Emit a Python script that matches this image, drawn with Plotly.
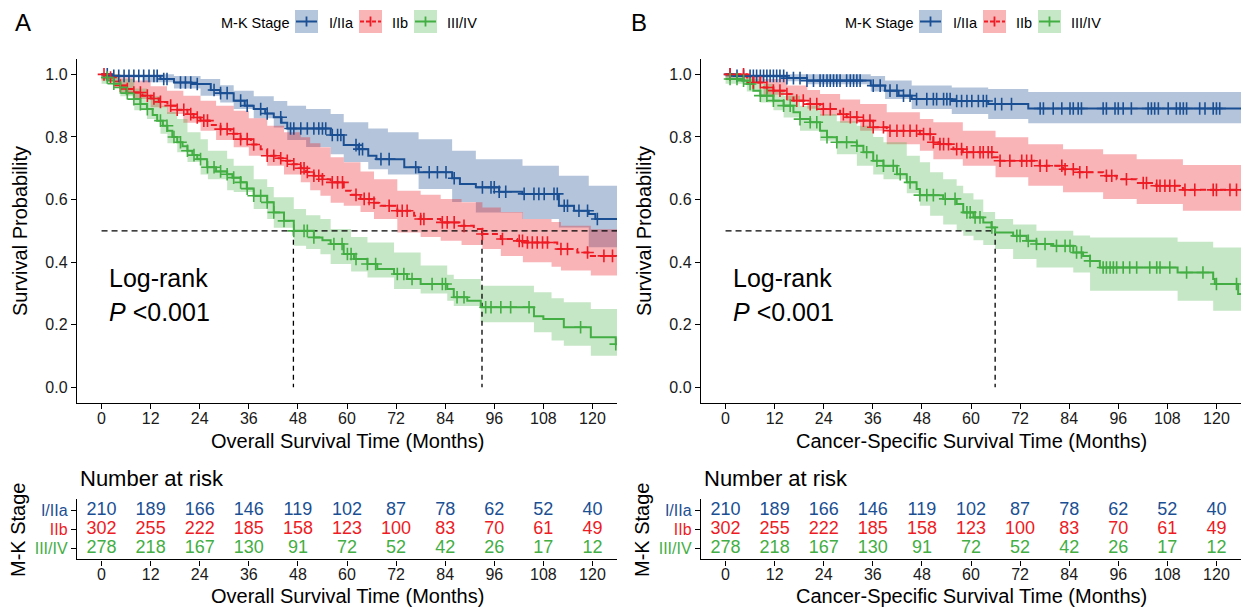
import numpy as np
import plotly.graph_objects as go

W, H = 1245, 607
FONT = "Arial, 'Liberation Sans', sans-serif"

groups = ["I/IIa", "IIb", "III/IV"]
line_colors = ["#1B4F93", "#EE1B24", "#43AE43"]
band_colors = ["rgba(27,79,147,0.33)", "rgba(238,27,36,0.33)", "rgba(67,174,67,0.30)"]
legend_fill = ["#B4C6DC", "#F9B4B6", "#C7E8C7"]
line_dash = ["solid", "6px,4px", "solid"]

# ---------------- Overall survival (panel A) ----------------
os_blue_t = [0, 2.5, 14.4, 17.7, 22, 26.7, 29, 32.3, 35, 37.2, 40, 42.1, 44, 45.4, 56.0, 59.2, 62.8, 65.2, 67.2,
             74.0, 77.5, 85.7, 87.6, 91.5, 97.2, 102.9, 111.8, 115.5, 119.1, 120.7, 126]
os_blue_s = [1.0, 0.995, 0.985, 0.974, 0.969, 0.950, 0.940, 0.916, 0.900, 0.889, 0.875, 0.863, 0.845, 0.827, 0.806,
             0.774, 0.761, 0.740, 0.729, 0.703, 0.687, 0.668, 0.650, 0.639, 0.625, 0.618, 0.580, 0.564, 0.554, 0.538, 0.538]
os_blue_band_t = [0, 10, 17.7, 24.2, 29, 32.3, 37.2, 42.1, 45.4, 50, 56, 59.2, 65.2, 70, 77.5, 85.7, 91.5, 102.9,
                  111.8, 119.1, 126]
os_blue_up = [1.0, 1.0, 0.995, 0.985, 0.965, 0.948, 0.93, 0.915, 0.9, 0.889, 0.873, 0.847, 0.827, 0.815, 0.793,
              0.756, 0.729, 0.708, 0.676, 0.644, 0.644]
os_blue_lo = [0.99, 0.975, 0.955, 0.932, 0.91, 0.889, 0.86, 0.83, 0.79, 0.768, 0.745, 0.72, 0.697, 0.68, 0.634,
              0.592, 0.559, 0.538, 0.511, 0.448, 0.448]
os_blue_cens = [1.4, 3.0, 4.2, 5.5, 6.7, 7.9, 9.1, 10.3, 11.6, 12.8, 13.6, 15.2, 16.0, 19.3, 20.5, 21.8, 23.4, 27.5,
                29.1, 30.7, 34.0, 35.6, 38.9, 40.5, 43.8, 46.2, 47.0, 48.7, 50.3, 51.9, 53.1, 54.0, 54.8, 56.4, 57.7,
                58.5, 62.2, 63.0, 63.8, 68.3, 70.3, 76.8, 80.1, 82.1, 84.2, 86.2, 93.1, 95.2, 96.0, 97.2, 98.8, 103.3,
                105.7, 106.9, 108.2, 110.6, 111.4, 113.1, 113.9, 116.7, 118.8, 121.2]

os_red_t = [0, 1.0, 3, 4.6, 6, 7.9, 10, 12, 14, 16.1, 18.5, 21, 22.5, 24.2, 26.5, 29.1, 31.5, 34, 36.5, 38.9, 40.5,
            42.5, 44.6, 46.5, 48.7, 50, 51.9, 54, 56, 59.2, 61, 63.3, 66, 68.2, 72.3, 76.4, 78, 82.9, 87.8, 91, 93.1,
            97.6, 101.6, 103, 111.4, 116.3, 119.6, 126]
os_red_s = [1.0, 0.990, 0.977, 0.964, 0.953, 0.942, 0.932, 0.923, 0.912, 0.900, 0.887, 0.873, 0.862, 0.852, 0.838,
            0.825, 0.81, 0.793, 0.776, 0.761, 0.740, 0.732, 0.724, 0.713, 0.700, 0.688, 0.676, 0.665, 0.655, 0.628,
            0.615, 0.602, 0.59, 0.580, 0.564, 0.548, 0.538, 0.527, 0.516, 0.506, 0.490, 0.474, 0.468, 0.463, 0.442,
            0.431, 0.420, 0.420]
os_red_band_t = [0, 4.6, 7.9, 12, 16, 20, 24.2, 28, 32.3, 36, 40.5, 44.6, 48.7, 51, 53.5, 56, 59.2, 63.3, 66.6, 72.3,
                 78, 82.9, 88, 93.1, 97.6, 103, 110, 112.3, 119.6, 126]
os_red_up = [1.0, 0.99, 0.98, 0.962, 0.948, 0.932, 0.916, 0.9, 0.884, 0.86, 0.836, 0.815, 0.799, 0.78, 0.767, 0.735,
             0.719, 0.69, 0.665, 0.628, 0.615, 0.602, 0.591, 0.575, 0.56, 0.538, 0.528, 0.516, 0.505, 0.505]
os_red_lo = [0.98, 0.94, 0.921, 0.895, 0.873, 0.845, 0.820, 0.79, 0.767, 0.74, 0.708, 0.68, 0.655, 0.63, 0.612, 0.59,
             0.58, 0.56, 0.538, 0.495, 0.48, 0.468, 0.455, 0.442, 0.42, 0.40, 0.385, 0.373, 0.357, 0.355]
os_red_cens = [0.6, 2.2, 4.6, 6.3, 7.9, 9.5, 11.2, 12.8, 14.4, 16.9, 18.5, 20.1, 21.8, 23.4, 25.0, 25.9, 29.1, 30.7,
               32.3, 34.0, 35.6, 37.2, 40.5, 42.1, 43.8, 45.4, 47.0, 48.7, 49.5, 50.3, 51.9, 53.1, 54.0, 56.4, 57.7,
               58.9, 62.2, 64.2, 65.4, 66.6, 70.3, 72.3, 73.5, 74.7, 78.0, 78.8, 83.3, 84.5, 86.2, 88.6, 93.1, 98.0,
               102.1, 102.9, 104.1, 105.3, 106.5, 107.8, 109.0, 112.3, 113.9, 118.8, 122.8, 124.9]

os_green_t = [0, 1.5, 3, 4.6, 6, 7.9, 9.5, 11.1, 12.5, 13.6, 15, 16.1, 17.3, 18.5, 19.8, 21, 22.2, 23.4, 25.8, 28,
              30.7, 32, 34, 35.5, 37.2, 40.5, 42.1, 44.6, 47, 51.9, 54, 56, 59.2, 61.7, 65, 67.4, 71.5, 74.7, 78, 84.5,
              86.1, 89.4, 92.7, 105.7, 108, 113, 119.6, 125.7, 126]
os_green_s = [0.99, 0.98, 0.97, 0.958, 0.94, 0.921, 0.905, 0.889, 0.87, 0.852, 0.836, 0.820, 0.80, 0.783, 0.77, 0.756,
              0.742, 0.729, 0.703, 0.69, 0.681, 0.67, 0.655, 0.635, 0.612, 0.591, 0.559, 0.532, 0.500, 0.479, 0.47,
              0.458, 0.426, 0.410, 0.394, 0.378, 0.362, 0.346, 0.330, 0.314, 0.288, 0.277, 0.256, 0.227, 0.218,
              0.192, 0.160, 0.138, 0.138]
os_green_band_t = [0, 4.6, 8, 11.1, 14.4, 16.1, 18.5, 21, 24.2, 26, 30.7, 32.3, 37.2, 40.5, 42.1, 47, 50, 53.5, 56, 61,
                   65, 71.5, 78, 84.5, 86.1, 92.7, 105.7, 110, 113, 119.6, 126]
os_green_up = [1.0, 0.985, 0.955, 0.93, 0.9, 0.88, 0.857, 0.815, 0.793, 0.756, 0.73, 0.708, 0.665, 0.64, 0.607, 0.57,
               0.55, 0.538, 0.506, 0.48, 0.463, 0.431, 0.389, 0.36, 0.346, 0.325, 0.304, 0.285, 0.272, 0.25, 0.25]
os_green_lo = [0.97, 0.93, 0.885, 0.857, 0.81, 0.78, 0.751, 0.72, 0.68, 0.665, 0.63, 0.624, 0.57, 0.538, 0.51, 0.452,
               0.442, 0.425, 0.394, 0.37, 0.351, 0.314, 0.30, 0.277, 0.26, 0.208, 0.176, 0.15, 0.133, 0.101, 0.10]
os_green_cens = [1.4, 3.0, 4.6, 6.3, 7.9, 9.5, 11.2, 14.4, 16.0, 17.7, 19.3, 21.0, 22.6, 24.2, 25.9, 27.5, 29.1,
                 30.7, 32.3, 34.0, 35.6, 37.2, 38.9, 40.5, 42.1, 44.6, 47.0, 49.5, 50.3, 51.9, 56.8, 58.8, 60.1,
                 61.0, 62.2, 65.0, 67.0, 72.3, 73.9, 75.9, 80.8, 83.3, 84.1, 86.9, 88.6, 93.9, 95.2, 97.6, 100.0,
                 104.5, 117.1, 125.7]

# ---------------- Cancer-specific survival (panel B) ----------------
css_blue_t = [0, 2, 15, 19.9, 35.5, 39, 42.3, 45.5, 55.3, 64.2, 74, 126]
css_blue_s = [1.0, 0.995, 0.988, 0.98, 0.964, 0.948, 0.932, 0.921, 0.915, 0.905, 0.891, 0.891]
css_blue_band_t = [0, 15, 20, 35.5, 39, 45.5, 55.3, 64.2, 74, 126]
css_blue_up = [1.0, 1.0, 1.0, 0.995, 0.98, 0.964, 0.958, 0.953, 0.944, 0.944]
css_blue_lo = [0.99, 0.978, 0.968, 0.945, 0.921, 0.889, 0.873, 0.857, 0.844, 0.844]
css_blue_cens = [1.1, 2.8, 4.4, 6.0, 6.8, 7.6, 8.5, 9.3, 10.1, 10.9, 11.7, 12.5, 13.3, 14.2, 15.0, 16.6, 18.2, 19.9,
                 21.5, 23.1, 23.9, 24.8, 25.6, 26.4, 27.2, 28.0, 29.6, 30.5, 31.3, 32.1, 32.9, 36.1, 37.8, 40.2,
                 41.9, 43.5, 45.1, 46.7, 49.2, 50.8, 51.6, 53.3, 54.1, 54.9, 56.5, 57.7, 59.0, 60.2, 61.8, 63.0,
                 63.8, 65.9, 67.5, 69.9, 76.9, 77.7, 80.1, 82.2, 84.2, 85.0, 86.2, 87.0, 92.3, 93.1, 95.2, 96.0,
                 97.2, 99.2, 103.3, 104.1, 104.9, 105.8, 108.2, 110.2, 111.1, 111.9, 112.7, 115.9, 117.2, 119.2,
                 120.0, 120.8]

css_red_t = [0, 5.2, 6.8, 9.3, 11.7, 15, 16.6, 19.9, 23.1, 28, 29.6, 32.9, 36.1, 39.4, 47.5, 50.8, 52.4, 55.7, 58,
             65.4, 67.1, 76.8, 82.5, 85.8, 92.3, 95.6, 100.5, 105.3, 111.8, 126]
css_red_s = [1.0, 0.99, 0.974, 0.958, 0.948, 0.937, 0.916, 0.905, 0.889, 0.873, 0.863, 0.852, 0.831, 0.820, 0.809,
             0.783, 0.777, 0.761, 0.751, 0.735, 0.724, 0.708, 0.697, 0.687, 0.676, 0.665, 0.653, 0.644, 0.631, 0.631]
css_red_band_t = [0, 5.2, 9.3, 15, 20, 23.1, 28, 32.9, 39.4, 47.5, 50.8, 58, 66, 74, 82.5, 92.3, 100.5, 111.8, 126]
css_red_up = [1.0, 0.995, 0.985, 0.964, 0.95, 0.937, 0.92, 0.905, 0.879, 0.857, 0.847, 0.82, 0.799, 0.777, 0.761,
              0.745, 0.729, 0.710, 0.710]
css_red_lo = [0.99, 0.975, 0.935, 0.916, 0.89, 0.868, 0.845, 0.820, 0.777, 0.756, 0.729, 0.708, 0.671, 0.644, 0.623,
              0.602, 0.586, 0.564, 0.564]
css_red_cens = [1.1, 4.4, 6.8, 8.5, 10.1, 11.7, 13.3, 15.0, 17.4, 19.0, 20.7, 22.3, 23.9, 25.6, 28.8, 30.5, 32.1,
                33.7, 35.3, 36.1, 38.6, 40.2, 41.9, 43.5, 45.1, 46.7, 48.4, 50.0, 50.8, 52.4, 53.3, 54.5, 56.5,
                57.7, 59.0, 60.6, 62.2, 63.0, 64.2, 65.1, 67.1, 69.5, 72.4, 73.6, 74.8, 76.9, 78.5, 82.2, 83.0,
                85.0, 86.6, 88.3, 93.1, 94.4, 98.0, 102.1, 102.9, 105.4, 106.2, 107.4, 108.6, 109.8, 112.3, 114.7,
                119.2, 120.0, 123.3, 124.9]

css_green_t = [0, 4, 5.2, 6.8, 8.5, 11.7, 14.2, 16.6, 18.2, 20.7, 23.1, 24.8, 27.2, 32.1, 33.7, 36.1, 38.6, 41.9,
               44.3, 46.7, 47.5, 53.2, 56.5, 58.1, 60.6, 63, 65, 65.9, 70.3, 73.6, 76, 80.1, 85, 87.4, 89.1, 91.5,
               110.5, 119.2, 119.6, 125.3, 126]
css_green_s = [0.985, 0.98, 0.969, 0.948, 0.932, 0.916, 0.900, 0.879, 0.857, 0.847, 0.820, 0.799, 0.783, 0.772,
               0.751, 0.724, 0.708, 0.681, 0.655, 0.634, 0.614, 0.602, 0.586, 0.559, 0.543, 0.527, 0.511, 0.495,
               0.484, 0.468, 0.458, 0.452, 0.431, 0.420, 0.404, 0.383, 0.367, 0.346, 0.330, 0.298, 0.298]
css_green_band_t = [0, 5.2, 8.5, 11.7, 14.2, 18.2, 23.1, 27.2, 32.1, 36.1, 38.6, 44.3, 47.5, 50, 53.2, 56.5, 58.1,
                    60.6, 63, 65.9, 70.3, 76, 85, 89.1, 110.5, 119.2, 126]
css_green_up = [1.0, 0.985, 0.969, 0.95, 0.932, 0.9, 0.873, 0.85, 0.836, 0.80, 0.783, 0.74, 0.719, 0.687, 0.665,
                0.644, 0.62, 0.60, 0.56, 0.538, 0.52, 0.50, 0.485, 0.479, 0.465, 0.447, 0.447]
css_green_lo = [0.97, 0.945, 0.91, 0.885, 0.862, 0.82, 0.788, 0.745, 0.708, 0.68, 0.665, 0.62, 0.58, 0.548, 0.52,
                0.5, 0.484, 0.47, 0.455, 0.442, 0.41, 0.383, 0.367, 0.309, 0.277, 0.245, 0.245]
css_green_cens = [1.1, 2.8, 4.4, 6.0, 8.5, 10.1, 11.7, 14.2, 15.8, 18.2, 20.7, 22.3, 24.8, 27.2, 29.6, 32.1, 34.5,
                  37.0, 38.6, 41.0, 42.7, 45.1, 47.5, 49.2, 50.8, 53.7, 56.1, 59.0, 59.8, 61.0, 62.2, 65.1, 71.2,
                  72.0, 74.0, 76.0, 78.1, 80.9, 83.0, 84.2, 85.8, 87.0, 89.1, 92.3, 93.1, 94.0, 94.8, 95.6, 97.2,
                  98.8, 100.5, 103.7, 105.4, 106.2, 108.6, 112.7, 116.7, 120.0, 124.9]

# medians (None = not reached)
os_medians = [None, 93.0, 46.9]
css_medians = [None, None, 65.9]

# number at risk
risk_times = [0, 12, 24, 36, 48, 60, 72, 84, 96, 108, 120]
risk_I = [210, 189, 166, 146, 119, 102, 87, 78, 62, 52, 40]
risk_IIb = [302, 255, 222, 185, 158, 123, 100, 83, 70, 61, 49]
risk_III = [278, 218, 167, 130, 91, 72, 52, 42, 26, 17, 12]
x_ticks = list(range(0, 121, 12))
y_ticks = [0.0, 0.2, 0.4, 0.6, 0.8, 1.0]
X_RANGE = [-6, 126]

panels = [
    dict(label="A", xtitle="Overall Survival Time (Months)", medians=os_medians,
         curves=[(os_blue_t, os_blue_s, os_blue_band_t, os_blue_up, os_blue_lo, os_blue_cens),
                 (os_red_t, os_red_s, os_red_band_t, os_red_up, os_red_lo, os_red_cens),
                 (os_green_t, os_green_s, os_green_band_t, os_green_up, os_green_lo, os_green_cens)]),
    dict(label="B", xtitle="Cancer-Specific Survival Time (Months)", medians=css_medians,
         curves=[(css_blue_t, css_blue_s, css_blue_band_t, css_blue_up, css_blue_lo, css_blue_cens),
                 (css_red_t, css_red_s, css_red_band_t, css_red_up, css_red_lo, css_red_cens),
                 (css_green_t, css_green_s, css_green_band_t, css_green_up, css_green_lo, css_green_cens)]),
]
risk_rows = [risk_I, risk_IIb, risk_III]


def fx(px):
    return px / W


def fy(py):
    return 1 - py / H


def step_at(ts, ss, tc):
    ts = np.asarray(ts, dtype=float)
    ss = np.asarray(ss, dtype=float)
    idx = np.searchsorted(ts, np.asarray(tc, dtype=float), side="right") - 1
    return ss[np.clip(idx, 0, len(ss) - 1)]


fig = go.Figure()
annotations = []
shapes = []

for p, panel in enumerate(panels):
    dx = 624 * p
    xa = "x" if p == 0 else "x2"
    ya = "y" if p == 0 else "y2"
    xt = "x3" if p == 0 else "x4"
    yt = "y3" if p == 0 else "y4"

    # confidence bands
    for g, (t, s, bt, up, lo, cens) in enumerate(panel["curves"]):
        fig.add_trace(go.Scatter(x=bt, y=up, mode="lines", line=dict(width=0, shape="hv"),
                                 xaxis=xa, yaxis=ya, hoverinfo="skip", showlegend=False))
        fig.add_trace(go.Scatter(x=bt, y=lo, mode="lines", line=dict(width=0, shape="hv"),
                                 fill="tonexty", fillcolor=band_colors[g],
                                 xaxis=xa, yaxis=ya, hoverinfo="skip", showlegend=False))

    # median lines
    meds = panel["medians"]
    known = [m for m in meds if m is not None]
    hend = X_RANGE[1] if any(m is None for m in meds) and len(known) > 1 else max(known)
    fig.add_trace(go.Scatter(x=[0, hend], y=[0.5, 0.5], mode="lines",
                             line=dict(color="black", width=1.3, dash="6px,4px"),
                             xaxis=xa, yaxis=ya, hoverinfo="skip", showlegend=False))
    for m in known:
        fig.add_trace(go.Scatter(x=[m, m], y=[0.5, 0], mode="lines",
                                 line=dict(color="black", width=1.3, dash="5px,4px"),
                                 xaxis=xa, yaxis=ya, hoverinfo="skip", showlegend=False))

    # curves
    for g, (t, s, bt, up, lo, cens) in enumerate(panel["curves"]):
        fig.add_trace(go.Scatter(x=t, y=s, mode="lines",
                                 line=dict(color=line_colors[g], width=2, shape="hv", dash=line_dash[g]),
                                 xaxis=xa, yaxis=ya, name=groups[g], showlegend=False))
    for g, (t, s, bt, up, lo, cens) in enumerate(panel["curves"]):
        fig.add_trace(go.Scatter(x=cens, y=step_at(t, s, cens), mode="markers",
                                 marker=dict(symbol="cross-thin", size=9,
                                             line=dict(color=line_colors[g], width=1.6)),
                                 xaxis=xa, yaxis=ya, hoverinfo="skip", showlegend=False))

    # risk table
    for g, row in enumerate(risk_rows):
        fig.add_trace(go.Scatter(x=risk_times, y=[3 - g] * len(risk_times), mode="text",
                                 text=[str(v) for v in row],
                                 textfont=dict(size=18, color=line_colors[g], family=FONT),
                                 xaxis=xt, yaxis=yt, hoverinfo="skip", showlegend=False))

    # log-rank text
    annotations.append(dict(x=1.3, y=0.349, xref=xa, yref=ya, text="Log-rank", showarrow=False,
                            xanchor="left", yanchor="middle", font=dict(size=25, color="black", family=FONT)))
    annotations.append(dict(x=1.3, y=0.241, xref=xa, yref=ya, text="<i>P</i> <0.001", showarrow=False,
                            xanchor="left", yanchor="middle", font=dict(size=25, color="black", family=FONT)))

    # panel letter
    annotations.append(dict(x=fx(13 + 616 * p), y=fy(22), xref="paper", yref="paper", text=panel["label"],
                            showarrow=False, xanchor="left", yanchor="middle",
                            font=dict(size=24, color="black", family=FONT)))
    # axis titles
    annotations.append(dict(x=fx(20 + dx), y=fy(231), xref="paper", yref="paper", text="Survival Probability",
                            textangle=-90, showarrow=False, xanchor="center", yanchor="middle",
                            font=dict(size=20, color="black", family=FONT)))
    annotations.append(dict(x=fx(347 + dx), y=fy(441), xref="paper", yref="paper", text=panel["xtitle"],
                            showarrow=False, xanchor="center", yanchor="middle",
                            font=dict(size=20, color="black", family=FONT)))
    annotations.append(dict(x=fx(347 + dx), y=fy(596), xref="paper", yref="paper", text=panel["xtitle"],
                            showarrow=False, xanchor="center", yanchor="middle",
                            font=dict(size=20, color="black", family=FONT)))
    annotations.append(dict(x=fx(78 + dx), y=fy(478), xref="paper", yref="paper", text="Number at risk",
                            showarrow=False, xanchor="left", yanchor="middle",
                            font=dict(size=22, color="black", family=FONT)))
    annotations.append(dict(x=fx(18 + dx), y=fy(530), xref="paper", yref="paper", text="M-K Stage",
                            textangle=-90, showarrow=False, xanchor="center", yanchor="middle",
                            font=dict(size=20, color="black", family=FONT)))

    # legend (drawn manually)
    annotations.append(dict(x=fx(219 + dx), y=fy(22.5), xref="paper", yref="paper", text="M-K Stage",
                            showarrow=False, xanchor="left", yanchor="middle",
                            font=dict(size=14.5, color="black", family=FONT)))
    box_x = [295, 359, 414]
    lab_x = [327, 390, 445]
    for g in range(3):
        x0 = box_x[g] + dx
        shapes.append(dict(type="rect", xref="paper", yref="paper", x0=fx(x0), x1=fx(x0 + 23),
                           y0=fy(33), y1=fy(10), fillcolor=legend_fill[g], line=dict(width=0), layer="above"))
        shapes.append(dict(type="line", xref="paper", yref="paper", x0=fx(x0 + 1), x1=fx(x0 + 22),
                           y0=fy(21.5), y1=fy(21.5),
                           line=dict(color=line_colors[g], width=2,
                                     dash="4px,2px" if g == 1 else "solid"), layer="above"))
        shapes.append(dict(type="line", xref="paper", yref="paper", x0=fx(x0 + 11.5), x1=fx(x0 + 11.5),
                           y0=fy(16.5), y1=fy(26.5), line=dict(color=line_colors[g], width=1.8), layer="above"))
        annotations.append(dict(x=fx(lab_x[g] + dx), y=fy(22.5), xref="paper", yref="paper", text=groups[g],
                                showarrow=False, xanchor="left", yanchor="middle",
                                font=dict(size=14.5, color="black", family=FONT)))

axis_common = dict(showline=True, linecolor="black", linewidth=1.4, ticks="outside", ticklen=5,
                   tickwidth=1.2, tickcolor="black", showgrid=False, zeroline=False,
                   tickfont=dict(size=16, color="#1a1a1a", family=FONT))

main_ydom = [fy(403), fy(58.7)]
tab_ydom = [fy(559.3), fy(499.3)]
left_xdom = [fx(77), fx(617)]
right_xdom = [fx(701), fx(1241)]

tick_colored = ['<span style="color:%s">%s</span>' % (line_colors[g], groups[g]) for g in range(3)]

fig.update_layout(
    width=W, height=H, margin=dict(l=0, r=0, t=0, b=0),
    plot_bgcolor="white", paper_bgcolor="white", showlegend=False,
    font=dict(family=FONT, color="black"),
    xaxis=dict(domain=left_xdom, anchor="y", range=X_RANGE, tickvals=x_ticks, ticklabelstandoff=-4,
               **axis_common),
    yaxis=dict(domain=main_ydom, anchor="x", range=[-0.05, 1.05], tickvals=y_ticks,
               ticktext=["%.1f" % v for v in y_ticks], **axis_common),
    xaxis2=dict(domain=right_xdom, anchor="y2", range=X_RANGE, tickvals=x_ticks, ticklabelstandoff=-4,
                **axis_common),
    yaxis2=dict(domain=main_ydom, anchor="x2", range=[-0.05, 1.05], tickvals=y_ticks,
                ticktext=["%.1f" % v for v in y_ticks], **axis_common),
    xaxis3=dict(domain=left_xdom, anchor="y3", range=X_RANGE, tickvals=x_ticks, ticklabelstandoff=-5,
                **axis_common),
    yaxis3=dict(domain=tab_ydom, anchor="x3", range=[0.42, 3.6], tickvals=[3, 2, 1],
                ticktext=tick_colored, **axis_common),
    xaxis4=dict(domain=right_xdom, anchor="y4", range=X_RANGE, tickvals=x_ticks, ticklabelstandoff=-5,
                **axis_common),
    yaxis4=dict(domain=tab_ydom, anchor="x4", range=[0.42, 3.6], tickvals=[3, 2, 1],
                ticktext=tick_colored, **axis_common),
    annotations=annotations,
    shapes=shapes,
)

fig.write_html("out.html")
